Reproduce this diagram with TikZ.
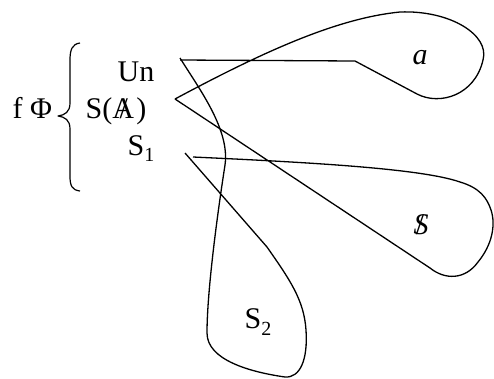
\documentclass[tikz,border=0pt]{standalone}
\usepackage{fontspec}
\setmainfont{Liberation Serif}
\begin{document}
\begin{tikzpicture}[x=1pt,y=-1pt,line width=1.3pt,line join=round,
  lbl/.style={inner sep=0pt,font=\fontsize{30}{35}\selectfont}]
\useasboundingbox (0,0) rectangle (494,378);
\newcommand{\sbx}[1]{\raisebox{-0.22em}{\fontsize{20}{21}\selectfont #1}}
% labels
\node[lbl,anchor=base west] (f) at (12,118) {f Φ};
\node[lbl,anchor=base east] (un) at (155,81) {Un};
\node[lbl,anchor=base west] (sa) at (85,118) {S(\rlap{\hspace{0.24em}/}A\kern0.08em)};
\node[lbl,anchor=base east] (s1) at (155,155) {S\sbx{1}};
\node[lbl] (a) at (420,58) {\textit{a}};
\node[lbl] (S) at (421,225) {\rlap{\hspace{0.08em}/}\textit{S}};
\node[lbl] (s2) at (258,322) {S\sbx{2}};
% brace
\draw[line width=1.2pt] (80,43) .. controls (72,44) and (70,50) .. (70,60) -- (70,103)
  .. controls (70,112) and (65,115) .. (58,116) .. controls (65,117) and (70,120) .. (70,129)
  -- (70,176) .. controls (70,186) and (72,190) .. (80,191);
% start points
\coordinate (pUn) at (180,60);
\coordinate (pUnb) at (180,58);
\coordinate (pSA) at (175,99);
\coordinate (pS1a) at (193,157);
\coordinate (pS1b) at (185,153);
% loop a
\draw (pUn) -- (355,61) -- (417,94) .. controls (440,106) and (475,95) .. (483,60)
  .. controls (490,35) and (450,10) .. (400,12) .. controls (340,18) and (270,48) .. (pSA);
% loop S
\draw (pSA) -- (430,268) .. controls (445,280) and (465,280) .. (478,262)
  .. controls (492,245) and (496,225) .. (491,210) .. controls (487,198) and (480,188) .. (460,182)
  .. controls (420,168) and (300,162) .. (pS1a);
% loop S2
\draw (pUnb) .. controls (200,90) and (230,130) .. (225,165)
  .. controls (218,210) and (207,290) .. (207,333) .. controls (207,360) and (250,372) .. (285,377)
  .. controls (300,378) and (308,360) .. (306,330) .. controls (304,300) and (290,280) .. (267,247)
  -- (pS1b);
\end{tikzpicture}
\end{document}
